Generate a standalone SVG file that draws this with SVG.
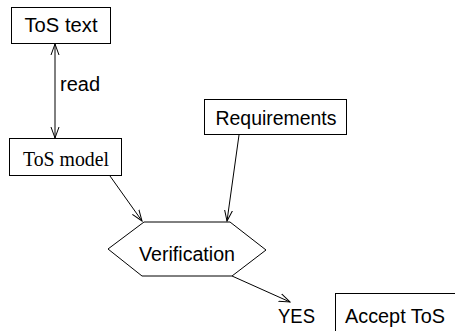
<svg xmlns="http://www.w3.org/2000/svg" width="455" height="331" viewBox="0 0 455 331">
<style>
.box{fill:#fff;stroke:#000;stroke-width:1}
.sans{font-family:"Liberation Sans",Arial,sans-serif;font-size:20px;fill:#000}
.serif{font-family:"Liberation Serif","Times New Roman",serif;font-size:20px;fill:#000}
.edge{fill:none;stroke:#000;stroke-width:1}
</style>
<defs>
<marker id="ah" markerUnits="userSpaceOnUse" markerWidth="12" markerHeight="10" refX="11" refY="4" orient="auto-start-reverse" viewBox="0 0 12 8">
<path d="M0,0 L11,4 L0,8" fill="none" stroke="#000" stroke-width="1"/>
</marker>
</defs>
<rect width="455" height="331" fill="#fff"/>
<g id="connectors">
<line class="edge" x1="55" y1="44" x2="55" y2="138" marker-start="url(#ah)" marker-end="url(#ah)"/>
<text class="sans" x="60" y="91">read</text>
<line class="edge" x1="110" y1="176" x2="142" y2="221" marker-end="url(#ah)"/>
<line class="edge" x1="239" y1="135" x2="227" y2="221" marker-end="url(#ah)"/>
<line class="edge" x1="232" y1="276" x2="290" y2="302" marker-end="url(#ah)"/>
</g>
<g id="tos-text">
<rect class="box" x="11.5" y="7.5" width="99" height="36"/>
<text class="sans" x="61" y="32" text-anchor="middle" textLength="73" lengthAdjust="spacingAndGlyphs">ToS text</text>
</g>
<g id="tos-model">
<rect class="box" x="9.5" y="138.5" width="112" height="37"/>
<text class="serif" x="66" y="166" text-anchor="middle" textLength="86" lengthAdjust="spacingAndGlyphs">ToS model</text>
</g>
<g id="requirements">
<rect class="box" x="204.5" y="99.5" width="142" height="35"/>
<text class="sans" x="276" y="125" text-anchor="middle" textLength="121" lengthAdjust="spacingAndGlyphs">Requirements</text>
</g>
<g id="verification">
<polygon class="box" points="144,222 230,222 266,250 232,276 142,276 108,249"/>
<text class="sans" x="187" y="261" text-anchor="middle" textLength="96" lengthAdjust="spacingAndGlyphs">Verification</text>
</g>
<g id="yes">
<text class="sans" x="278" y="323" textLength="37" lengthAdjust="spacingAndGlyphs">YES</text>
</g>
<g id="accept-tos">
<rect class="box" x="335.5" y="293.5" width="130" height="50"/>
<text class="sans" x="345" y="323" textLength="100" lengthAdjust="spacingAndGlyphs">Accept ToS</text>
</g>
</svg>
